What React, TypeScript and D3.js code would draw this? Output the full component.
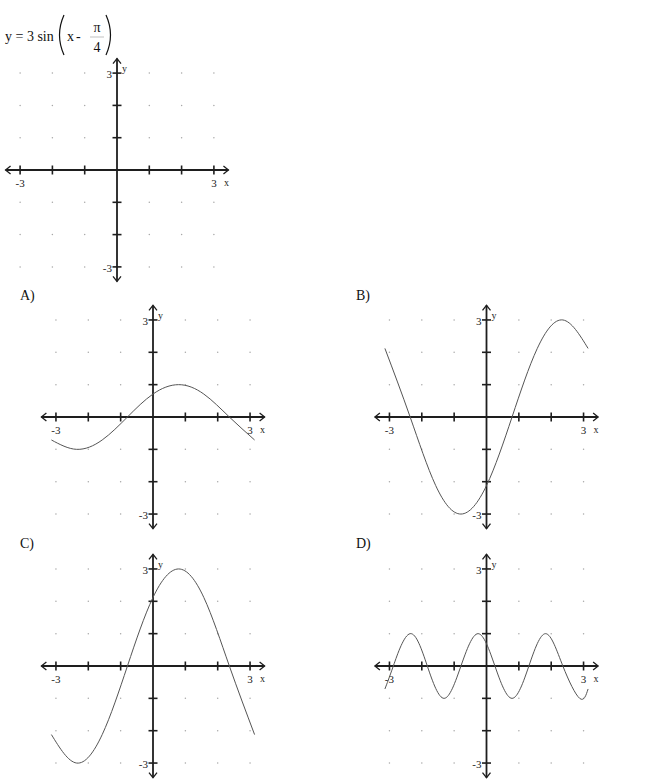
import React from 'react';
import * as d3 from 'd3';

// Values (x in radians-ish units, y in graph units)
const xsQuarter = [-3.14, -2.36, -1.57, -0.79, 0, 0.79, 1.57, 2.36, 3.14];
const seriesA = [-0.71, -1, -0.71, 0, 0.71, 1, 0.71, 0, -0.71];
const seriesB = [2.12, 0, -2.12, -3, -2.12, 0, 2.12, 3, 2.12];
const seriesC = [-2.12, -3, -2.12, 0, 2.12, 3, 2.12, 0, -2.12];
const xsD = [-3.14, -2.88, -2.36, -1.83, -1.31, -0.79, -0.26, 0.26, 0.79, 1.31, 1.83, 2.36, 2.88, 3.14];
const seriesD = [-0.71, 0, 1, 0, -1, 0, 1, 0, -1, 0, 1, 0, -1, -0.71];

const gridValues = [-3, -2, -1, 1, 2, 3];
const tickValues = [-3, -2, -1, 1, 2, 3];
const optionLabels = ['A)', 'B)', 'C)', 'D)'];

const SERIF = '"Liberation Serif", "Times New Roman", serif';
const AXIS = '#1e1e1e';

interface PlotProps {
  ox: number;
  oy: number;
  unit: number;
  xs?: number[];
  ys?: number[];
}

const Plot: React.FC<PlotProps> = ({ ox, oy, unit, xs, ys }) => {
  const x = d3.scaleLinear().domain([-3, 3]).range([ox - 3 * unit, ox + 3 * unit]);
  const y = d3.scaleLinear().domain([-3, 3]).range([oy + 3 * unit, oy - 3 * unit]);
  const ext = 3.45;
  const x0 = x(-ext), x1 = x(ext), yTop = y(ext), yBot = y(-ext);
  const a = 5, h = 4;

  let path: string | null = null;
  if (xs && ys) {
    const pts = xs.map((v, i) => [v, ys[i]] as [number, number]);
    path = d3.line<[number, number]>()
      .x(d => x(d[0]))
      .y(d => y(d[1]))
      .curve(d3.curveNatural)(pts);
  }

  return (
    <g>
      {/* dotted grid */}
      {gridValues.map(gx => gridValues.map(gy => (
        <circle key={`${gx}_${gy}`} cx={x(gx)} cy={y(gy)} r={0.75} fill="#a8a8a8" />
      )))}
      {/* axes */}
      <line x1={x0} x2={x1} y1={oy} y2={oy} stroke={AXIS} strokeWidth={1.8} />
      <line x1={ox} x2={ox} y1={yTop} y2={yBot} stroke={AXIS} strokeWidth={1.8} />
      {/* arrow heads */}
      <path d={`M${x0 + a},${oy - h}L${x0},${oy}L${x0 + a},${oy + h}`} fill="none" stroke={AXIS} strokeWidth={1.3} />
      <path d={`M${x1 - a},${oy - h}L${x1},${oy}L${x1 - a},${oy + h}`} fill="none" stroke={AXIS} strokeWidth={1.3} />
      <path d={`M${ox - h},${yTop + a}L${ox},${yTop}L${ox + h},${yTop + a}`} fill="none" stroke={AXIS} strokeWidth={1.3} />
      <path d={`M${ox - h},${yBot - a}L${ox},${yBot}L${ox + h},${yBot - a}`} fill="none" stroke={AXIS} strokeWidth={1.3} />
      {/* ticks */}
      {tickValues.map(t => (
        <line key={`xt${t}`} x1={x(t)} x2={x(t)} y1={oy - 4.5} y2={oy + 4.5} stroke={AXIS} strokeWidth={1.6} />
      ))}
      {tickValues.map(t => (
        <line key={`yt${t}`} x1={ox - 4.5} x2={ox + 4.5} y1={y(t)} y2={y(t)} stroke={AXIS} strokeWidth={1.6} />
      ))}
      {/* labels */}
      <g fontFamily={SERIF} fill="#222">
        <text x={x(-3)} y={oy + 17} fontSize={11} textAnchor="middle">-3</text>
        <text x={x(3)} y={oy + 17} fontSize={11} textAnchor="middle">3</text>
        <text x={x(3) + 10} y={oy + 16} fontSize={10}>x</text>
        <text x={ox - 5} y={y(3) + 5} fontSize={11} textAnchor="end">3</text>
        <text x={ox - 5} y={y(-3) + 5} fontSize={11} textAnchor="end">-3</text>
        <text x={ox + 5} y={y(3) - 1} fontSize={10}>y</text>
      </g>
      {path && <path d={path} fill="none" stroke="#555" strokeWidth={1} />}
    </g>
  );
};

const App: React.FC = () => {
  const unit = 32.35;
  const panels = [
    { ox: 153, oy: 417, xs: xsQuarter, ys: seriesA, lx: 20, ly: 300 },
    { ox: 486.5, oy: 417, xs: xsQuarter, ys: seriesB, lx: 356, ly: 300 },
    { ox: 153, oy: 666, xs: xsQuarter, ys: seriesC, lx: 20, ly: 548 },
    { ox: 486.5, oy: 666, xs: xsD, ys: seriesD, lx: 356, ly: 548 },
  ];

  return (
    <svg width={650} height={780} style={{ position: 'absolute', left: 0, top: 0, background: '#fff' }}>
      {/* equation header */}
      <g fontFamily={SERIF} fill="#111" fontSize={14}>
        <text x={5} y={41}>y = 3 sin</text>
        <path d="M64,15 Q55,35 64,55" fill="none" stroke="#111" strokeWidth={1.2} />
        <text x={67} y={41}>x</text>
        <text x={76} y={41}>-</text>
        <text x={97} y={32} textAnchor="middle">π</text>
        <line x1={90} x2={104} y1={37} y2={37} stroke="#999" strokeWidth={0.6} />
        <text x={97} y={52} textAnchor="middle">4</text>
        <path d="M106,15 Q115,35 106,55" fill="none" stroke="#111" strokeWidth={1.2} />
      </g>
      <Plot ox={117} oy={170} unit={32.3} />
      {panels.map((p, i) => (
        <g key={i}>
          <text x={p.lx} y={p.ly} fontFamily={SERIF} fontSize={14} fill="#111">{optionLabels[i]}</text>
          <Plot ox={p.ox} oy={p.oy} unit={unit} xs={p.xs} ys={p.ys} />
        </g>
      ))}
    </svg>
  );
};

export default App;
